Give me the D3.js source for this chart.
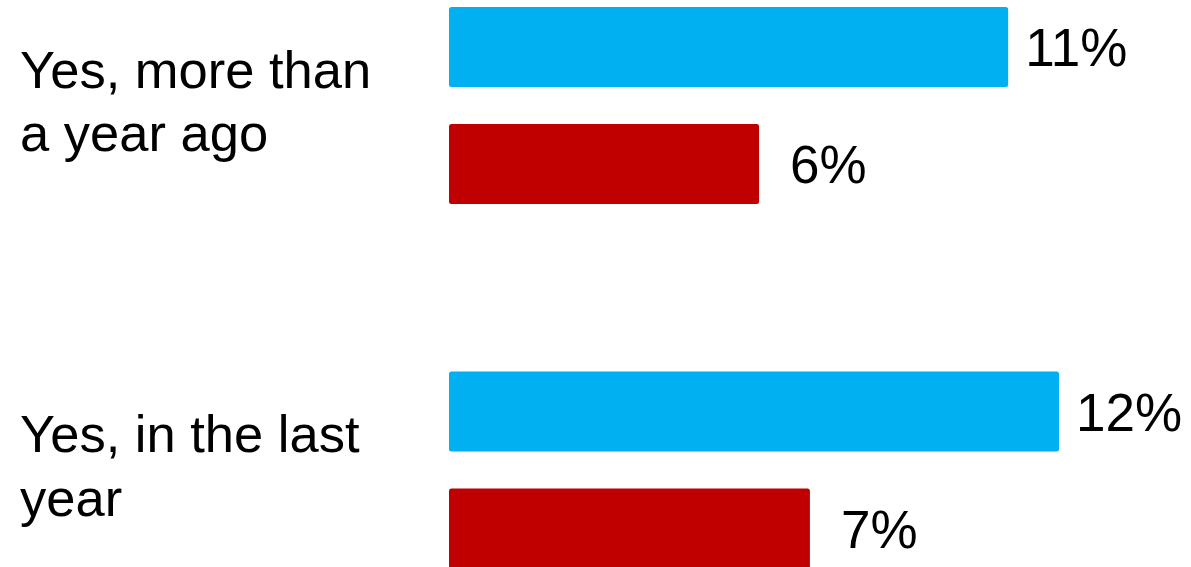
<!DOCTYPE html>
<html>
<head>
<meta charset="utf-8">
<script src="https://cdn.jsdelivr.net/npm/d3@7"></script>
<style>
  html, body { margin: 0; padding: 0; background: #fff; }
  svg { display: block; font-family: "Liberation Sans", Arial, sans-serif; }
</style>
</head>
<body>
<svg id="chart" width="1191" height="567"></svg>
<script>
// ---- data ----
const categories = ["Yes, more than a year ago", "Yes, in the last year"];
const categoryLines = [["Yes, more than", "a year ago"], ["Yes, in the", "last year"]];
const seriesNames = ["Series A", "Series B"];
const seriesA = [11, 12];     // blue
const seriesB = [6.1, 7.1];   // red
const valueLabels = [["11%", "6%"], ["12%", "7%"]];

// ---- layout ----
const W = 1191, H = 567;
const colors = ["#00B0F0", "#C00000"];
const labelGap = [17, 31];
const fontSize = 53;

const svg = d3.select("#chart");

const x = d3.scaleLinear().domain([0, 12]).range([449, 1059]);

const y0 = d3.scaleBand().domain(categories).range([-76.75, 652.25]).padding(0);
const y1 = d3.scaleBand().domain(seriesNames).range([83.75, 280.75])
  .paddingInner(37 / 117).paddingOuter(0);

const rows = categories.map((c, i) => ({
  cat: c,
  lines: i === 0 ? ["Yes, more than", "a year ago"] : ["Yes, in the last", "year"],
  vals: [seriesA[i], seriesB[i]],
  labels: valueLabels[i]
}));

const g = svg.selectAll("g.cat").data(rows).join("g")
  .attr("class", "cat")
  .attr("transform", d => `translate(0,${y0(d.cat)})`);

// bars
g.selectAll("rect").data(d => d.vals.map((v, j) => ({ v, s: seriesNames[j], j })))
  .join("rect")
  .attr("x", x(0))
  .attr("y", d => y1(d.s))
  .attr("width", d => x(d.v) - x(0))
  .attr("height", y1.bandwidth())
  .attr("rx", 2.5).attr("ry", 2.5)
  .attr("fill", d => colors[d.j]);

// value labels
g.selectAll("text.val").data(d => d.vals.map((v, j) => ({ v, s: seriesNames[j], j, t: d.labels[j] })))
  .join("text")
  .attr("class", "val")
  .attr("x", d => x(d.v) + labelGap[d.j])
  .attr("y", d => y1(d.s) + y1.bandwidth() / 2)
  .attr("dy", "0.36em")
  .attr("font-size", fontSize)
  .attr("fill", "#000")
  .text(d => d.t);

// category labels
const catCenter = (y1(seriesNames[0]) + y1(seriesNames[1]) + y1.bandwidth()) / 2;
const lineH = 63.5;
g.append("text")
  .attr("class", "cat-label")
  .attr("x", 20)
  .attr("font-size", 52.5)
  .attr("fill", "#000")
  .selectAll("tspan").data(d => d.lines).join("tspan")
  .attr("x", 20)
  .attr("y", (d, i, n) => catCenter + 14 + (i - (n.length - 1) / 2) * lineH)
  .text(d => d);
</script>
</body>
</html>
